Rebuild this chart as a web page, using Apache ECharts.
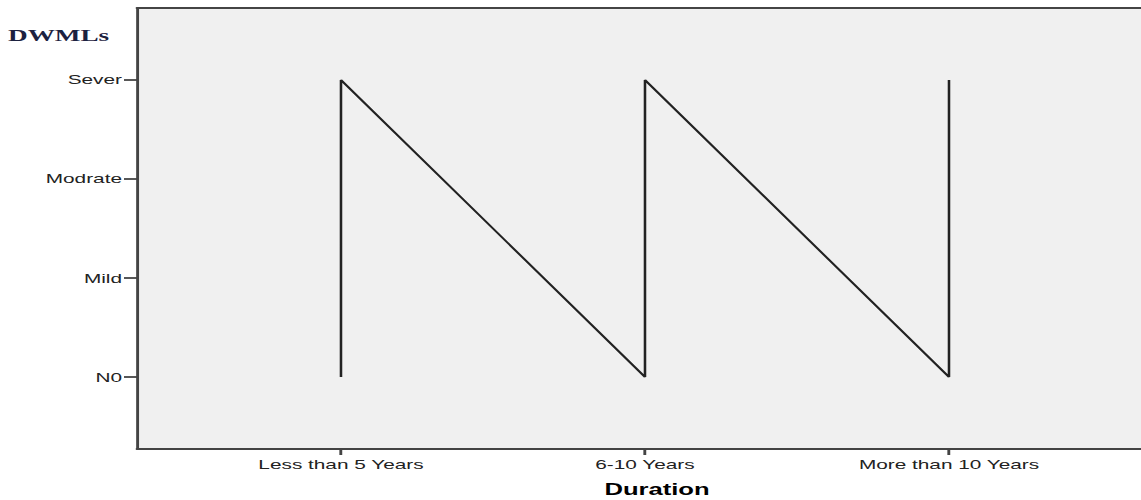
<!DOCTYPE html>
<html>
<head>
<meta charset="utf-8">
<script src="https://cdn.jsdelivr.net/npm/echarts@6/dist/echarts.min.js"></script>
<style>
  html, body { margin: 0; padding: 0; background: #fff; overflow: hidden; }
  /* the original picture is stretched sideways, so the chart is drawn narrow and widened */
  #chart { height: 500px; transform-origin: 0 0; }
</style>
</head>
<body>
<div id="chart"></div>
<script>
// categories on each axis
var durations = ['Less than 5 Years', '6-10 Years', 'More than 10 Years'];
var levels = ['N0', 'Mild', 'Modrate', 'Sever'];
// path of the line: [duration index, level index]
var durationIdx = [0, 0, 1, 1, 2, 2];
var levelIdx = [0, 3, 0, 3, 0, 3];

var points = durationIdx.map(function (d, i) { return [d, levelIdx[i]]; });

var S = 1.6;          // horizontal stretch
var W = 1200;         // a bit wider than the window so the frame runs off the right edge
var el = document.getElementById('chart');
el.style.width = (W / S) + 'px';
el.style.transform = 'scaleX(' + S + ')';

var chart = echarts.init(el, null, { renderer: 'svg' });

var labelFont = { color: '#222', fontSize: 13, fontFamily: 'Liberation Sans' };
var frame = { color: '#444', width: 1.8 };
var xMin = -0.671, xMax = 2.75;

var option = {
  backgroundColor: '#fff',
  animation: false,
  title: {
    text: 'DWMLs',
    left: 8 / S,
    top: 27,
    padding: 0,
    textStyle: { fontFamily: 'Liberation Serif', fontWeight: 'bold', fontSize: 17, color: '#1c2140' }
  },
  grid: {
    left: 137 / S, top: 8, width: 1040 / S, height: 441,
    outerBoundsMode: 'none',
    show: true, backgroundColor: '#f0f0f0', borderWidth: 0
  },
  xAxis: [{
    type: 'value',
    min: xMin, max: xMax,
    splitLine: { show: false },
    axisLine: { show: true, onZero: false, lineStyle: frame },
    axisTick: { show: true, customValues: [0, 1, 2], length: 6, lineStyle: frame },
    axisLabel: {
      customValues: [0, 1, 2], margin: 9,
      formatter: function (v) { return durations[Math.round(v)]; },
      color: labelFont.color, fontSize: labelFont.fontSize, fontFamily: labelFont.fontFamily
    },
    name: 'Duration',
    nameLocation: 'middle',
    nameGap: 33,
    nameTextStyle: { fontFamily: 'Liberation Sans', fontWeight: 'bold', fontSize: 16, color: '#000' }
  }, {
    // top edge of the frame
    type: 'value',
    position: 'top',
    min: xMin, max: xMax,
    splitLine: { show: false },
    axisLine: { show: true, onZero: false, lineStyle: frame },
    axisTick: { show: false },
    axisLabel: { show: false }
  }],
  yAxis: {
    type: 'value',
    min: -0.727, max: 3.727,
    splitLine: { show: false },
    axisLine: { show: true, onZero: false, lineStyle: frame },
    axisTick: { show: true, customValues: [0, 1, 2, 3], length: 13 / S, lineStyle: frame },
    axisLabel: {
      customValues: [0, 1, 2, 3], margin: 15 / S,
      formatter: function (v) { return levels[Math.round(v)]; },
      color: labelFont.color, fontSize: labelFont.fontSize, fontFamily: labelFont.fontFamily
    }
  },
  series: [{
    type: 'line',
    data: points,
    symbol: 'none',
    lineStyle: { color: '#222', width: 1.6 }
  }]
};

chart.setOption(option);
</script>
</body>
</html>
